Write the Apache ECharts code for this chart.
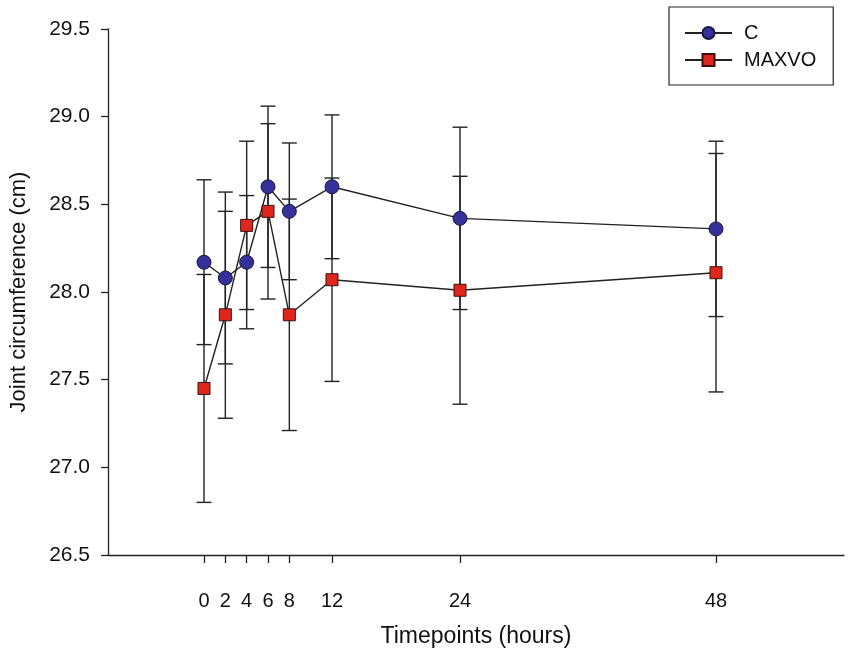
<!DOCTYPE html>
<html>
<head>
<meta charset="utf-8">
<script src="https://cdn.jsdelivr.net/npm/echarts@6/dist/echarts.min.js"></script>
<style>
html,body{margin:0;padding:0;background:#fff;}
#chart{width:851px;height:653px;}
</style>
</head>
<body>
<div id="chart"></div>
<script>
// Data
var times = [0, 2, 4, 6, 8, 12, 24, 48];
var cMean = [28.17, 28.08, 28.17, 28.60, 28.46, 28.60, 28.42, 28.36];
var cErr  = [0.47, 0.49, 0.38, 0.46, 0.39, 0.41, 0.52, 0.50];
var mMean = [27.45, 27.87, 28.38, 28.46, 27.87, 28.07, 28.01, 28.11];
var mErr  = [0.65, 0.59, 0.48, 0.50, 0.66, 0.58, 0.65, 0.68];
var xTicks = [0, 2, 4, 6, 8, 12, 24, 48];

var ink = '#222222';
var font = 'Liberation Sans, Arial, sans-serif';
var narrow = 'Liberation Sans Narrow, Arial Narrow, Liberation Sans, sans-serif';

function pairs(xs, ys) { return xs.map(function (x, i) { return [x, ys[i]]; }); }
function errData(xs, m, e) { return xs.map(function (x, i) { return [x, m[i] - e[i], m[i] + e[i]]; }); }

function renderErr(params, api) {
  var x = api.value(0);
  var lo = api.coord([x, api.value(1)]);
  var hi = api.coord([x, api.value(2)]);
  var hw = 7.5;
  var st = { stroke: ink, lineWidth: 1.4 };
  return {
    type: 'group',
    children: [
      { type: 'line', shape: { x1: lo[0], y1: lo[1], x2: hi[0], y2: hi[1] }, style: st },
      { type: 'line', shape: { x1: lo[0] - hw, y1: lo[1], x2: lo[0] + hw, y2: lo[1] }, style: st },
      { type: 'line', shape: { x1: hi[0] - hw, y1: hi[1], x2: hi[0] + hw, y2: hi[1] }, style: st }
    ]
  };
}

var chart = echarts.init(document.getElementById('chart'), null, { renderer: 'canvas' });
chart.setOption({
  animation: false,
  backgroundColor: '#fff',
  grid: { left: 107, right: 7, top: 29, bottom: 93, containLabel: false },
  legend: {
    left: 669, top: 7,
    orient: 'vertical',
    data: ['C', 'MAXVO'],
    itemWidth: 47, itemHeight: 15, itemGap: 7,
    padding: [16, 17, 15, 15],
    borderColor: ink, borderWidth: 1.2, borderRadius: 0,
    backgroundColor: '#fff',
    textStyle: { fontFamily: font, fontSize: 20, color: '#111', padding: [0, 0, 0, 7] }
  },
  xAxis: {
    type: 'value', min: -9, max: 60,
    name: 'Timepoints (hours)', nameLocation: 'middle', nameGap: 70,
    nameTextStyle: { fontFamily: narrow, fontSize: 23, color: '#111' },
    axisLine: { show: true, onZero: false, lineStyle: { color: ink, width: 1.3 } },
    axisTick: { show: true, customValues: xTicks, length: 8, lineStyle: { color: ink, width: 1.3 } },
    axisLabel: { customValues: xTicks, margin: 36, fontFamily: narrow, fontSize: 20, color: '#111' },
    splitLine: { show: false }
  },
  yAxis: {
    type: 'value', min: 26.5, max: 29.5, interval: 0.5,
    name: 'Joint circumference (cm)', nameLocation: 'middle', nameGap: 78, nameRotate: 90,
    nameTextStyle: { fontFamily: font, fontSize: 22, color: '#111' },
    axisLine: { show: true, onZero: false, lineStyle: { color: ink, width: 1.3 } },
    axisTick: { show: true, length: 7, lineStyle: { color: ink, width: 1.3 } },
    axisLabel: {
      margin: 18, fontFamily: font, fontSize: 21, color: '#111',
      formatter: function (v) { return v.toFixed(1); }
    },
    splitLine: { show: false }
  },
  series: [
    { name: 'Cerr', type: 'custom', renderItem: renderErr, data: errData(times, cMean, cErr), z: 1, silent: true },
    { name: 'Merr', type: 'custom', renderItem: renderErr, data: errData(times, mMean, mErr), z: 1, silent: true },
    {
      name: 'C', type: 'line', data: pairs(times, cMean), z: 3,
      symbol: 'circle', symbolSize: 14,
      lineStyle: { color: ink, width: 1.4 },
      itemStyle: { color: '#35309a', borderColor: '#1a1a3a', borderWidth: 1 }
    },
    {
      name: 'MAXVO', type: 'line', data: pairs(times, mMean), z: 4,
      symbol: 'rect', symbolSize: 12,
      lineStyle: { color: ink, width: 1.4 },
      itemStyle: { color: '#e0261c', borderColor: '#3a1010', borderWidth: 1 }
    }
  ]
});
</script>
</body>
</html>
